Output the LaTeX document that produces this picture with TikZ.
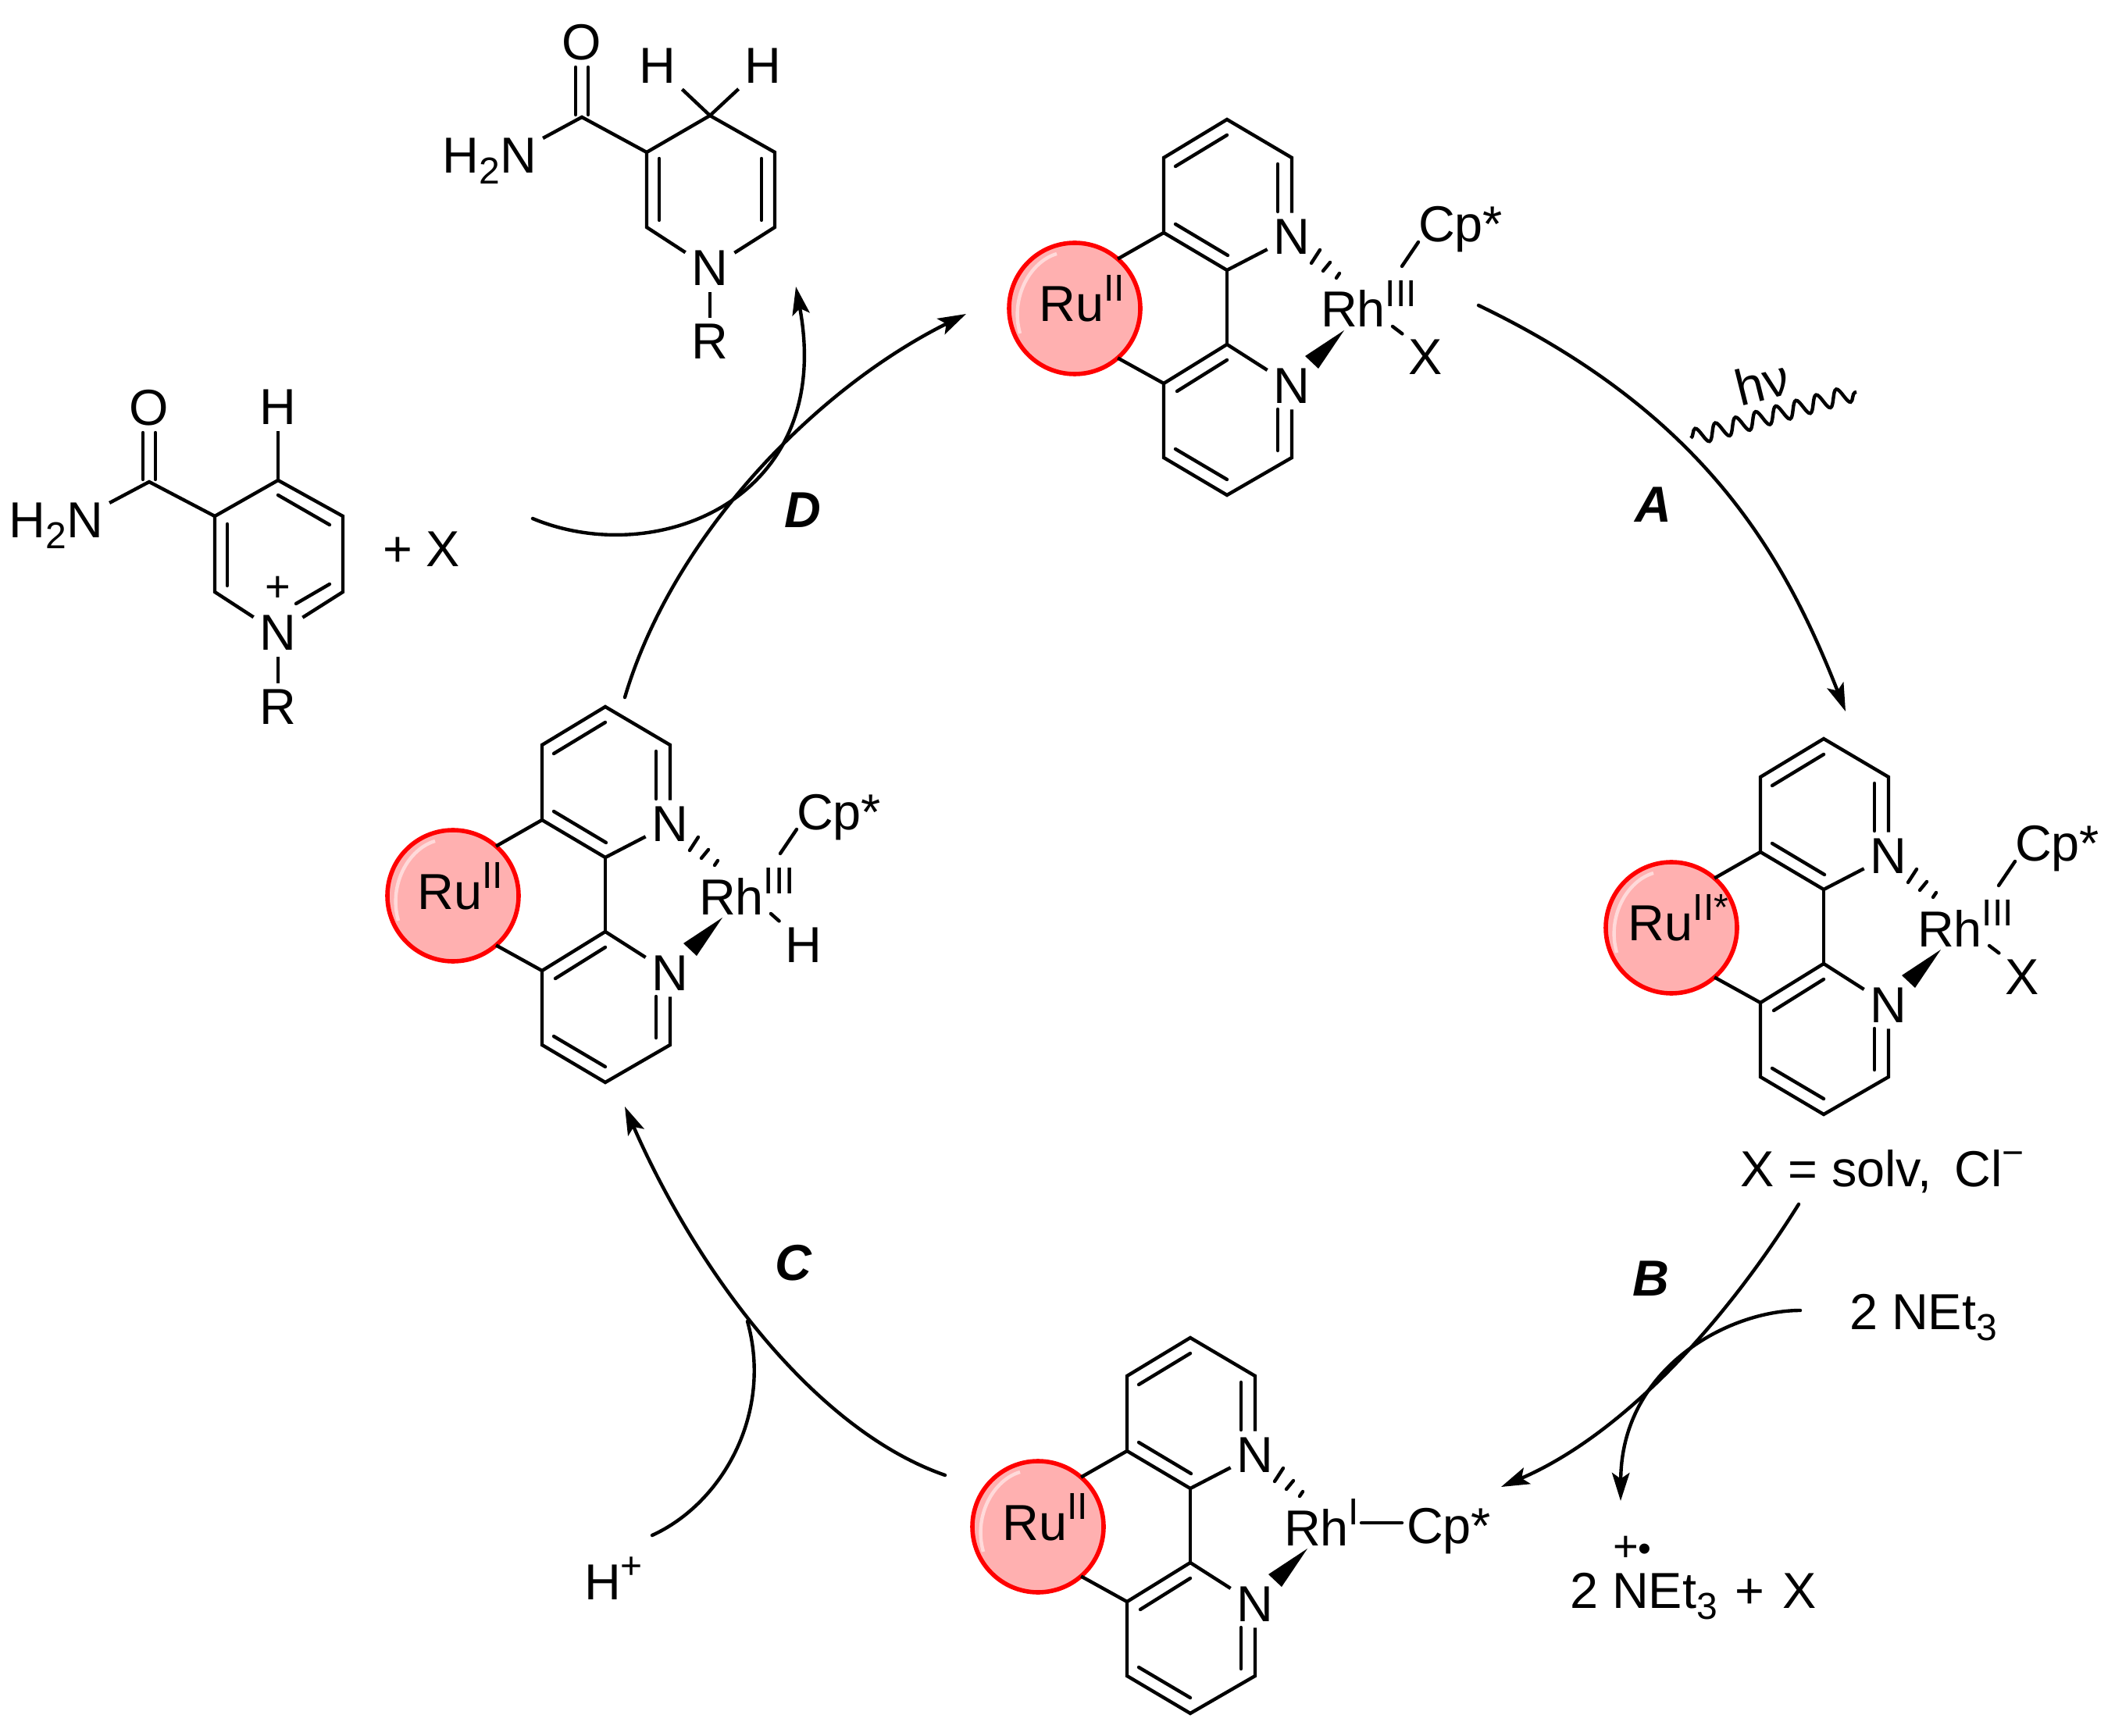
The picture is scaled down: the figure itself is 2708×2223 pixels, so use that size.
\documentclass[tikz,border=0pt]{standalone}
\usepackage{fontspec}
\setmainfont{Liberation Sans}
\usetikzlibrary{arrows.meta,decorations.pathmorphing}

\definecolor{ruFill}{HTML}{FFB0B0}
\definecolor{ruShine}{HTML}{FFDADA}
\newcommand{\chemfont}{\fontsize{16.2pt}{19pt}\selectfont}
\newcommand{\smallchem}{\fontsize{12pt}{14pt}\selectfont}
\newcommand{\chargefont}{\fontsize{14pt}{16pt}\selectfont}
\newcommand{\supr}[1]{\raisebox{6.6pt}{\smallchem #1}}
\newcommand{\subr}[1]{\raisebox{-3.5pt}{\smallchem #1}}

\tikzset{every picture/.style={line width=1.1pt},
  atom/.style={inner sep=0pt,outer sep=2pt,font=\chemfont,anchor=base},
  atomcenter/.style={atom,anchor=center},
  freetext/.style={inner sep=0pt,outer sep=0pt,font=\chemfont,anchor=base west},
  steplabel/.style={inner sep=0pt,font=\chemfont\bfseries\itshape},
  rucircle/.style={circle,draw=red,fill=ruFill,line width=1.4pt,minimum size=42pt,inner sep=0pt,outer sep=0pt},
  cycarrow/.style={-{Stealth[length=9pt,width=5.6pt,inset=1.9pt]}},
  arcline/.style={line cap=round},
  bond/.style={line cap=round},
  wedgebond/.style={fill=black,draw=none}}

% #1 name, #2 #3 top of ring, #4 Ru text, #5 Rh text, #6 ligands
\newcommand{\rucomplex}[6]{%
  \begin{scope}[shift={(#2,#3)},name prefix=#1-]
    %Metal circle
    \draw (-195,242) node [rucircle] (ru) {};
    \draw [ruShine] (-218,172) .. controls (-252,182) and (-278,228) .. (-265,274) ;
    \draw (-186,259) node [atom] (rulabel) {Ru\supr{#4}};
    \draw (83,150) node [atomcenter] (nup) {N};
    \draw (83,341) node [atomcenter] (ndown) {N};
    \draw (120,266) node [freetext] (rh) {Rh\supr{#5}};
    %Upper ring
    \coordinate (a) at (0,0);
    \coordinate (b) at (83,49);
    \coordinate (c) at (-81,49);
    \coordinate (d) at (-81,145);
    \coordinate (e) at (0,193);
    \coordinate (f) at (0,288);
    \coordinate (g) at (-81,338);
    \coordinate (h) at (-81,433);
    \coordinate (i) at (0,481);
    \coordinate (j) at (83,433);
    \draw [line join=miter] (nup) -- (b) -- (a) -- (c) -- (d) -- (e) -- (nup) ;
    \draw (e) -- (f) ;
    %Lower ring
    \draw [line join=miter] (ndown) -- (f) -- (g) -- (h) -- (i) -- (j) -- (ndown) ;
    %Inner lines
    \draw [bond] (-66,60) -- (0,20) ;
    \draw [bond] (65,57) -- (65,118) ;
    \draw [bond] (-66,134) -- (1,174) ;
    \draw [bond] (-64,348) -- (0,308) ;
    \draw [bond] (65,371) -- (65,424) ;
    \draw [bond] (-66,422) -- (0,461) ;
    %To the circle
    \draw (d) -- (ru.49) ;
    \draw (g) -- (ru.-49) ;
    %Hashed and wedge bonds to Rh
    \draw [bond] (119,167) -- (108,184) ;
    \draw [bond] (132,183) -- (123,194) ;
    \draw [bond] (144,197) -- (140,203) ;
    \fill [wedgebond] (150,270) -- (100,303) -- (117,319) -- cycle ;
    #6
  \end{scope}}

% #1 text of the lower ligand
\newcommand{\rhligands}[1]{%
  \draw (245,157) node [freetext] (cp) {Cp*};
  \draw (254,327) node [atom] (lig) {#1};
  \coordinate (rhup) at (224,188);
  \coordinate (rhdown) at (212,265);
  \draw [bond] (rhup) -- (cp.base west) ;
  \draw [bond] (rhdown) -- (lig.north west) ;}

\begin{document}
\begin{tikzpicture}[x=0.25pt,y=0.25pt,yscale=-1,xscale=1]
    \path [use as bounding box] (0,0) rectangle (2708,2223);

    %Complexes
    \rucomplex{top}{1571}{153}{II}{III}{\rhligands{X}}
    \rucomplex{right}{2335}{946}{II*}{III}{\rhligands{X}}
    \rucomplex{left}{775}{905}{II}{III}{\rhligands{H}}
    \rucomplex{low}{1524}{1713}{II}{I}{%
      \draw (277,263) node [freetext] (cp) {Cp*};
      \coordinate (rhright) at (219,237);
      \draw [bond,shorten >=1.5pt] (rhright) -- (rhright -| cp.west) ;}

    %Product ring
    \coordinate (pa) at (745,150);
    \coordinate (pb) at (828,195);
    \coordinate (pc) at (909,148);
    \coordinate (pd) at (992,195);
    \coordinate (pe) at (992,291);
    \coordinate (pf) at (828,291);
    \draw (745,77) node [atom] (po) {O};
    \draw (627,222) node [atom] (pnh) {H\subr{2}N};
    \draw (909,366) node [atom] (pn) {N};
    \draw (909,460) node [atom] (pr) {R};
    \draw (842,107) node [atom] (phl) {H};
    \draw (977,107) node [atom] (phr) {H};
    \draw (pnh.east |- 0,177) -- (pa) -- (pb) -- (pc) -- (pd) -- (pe) -- (pn) -- (pf) -- (pb) ;
    \draw (pc) -- (phl) ;
    \draw (pc) -- (phr) ;
    \draw (pn) -- (pr) ;
    \draw [bond] (737,147) -- (737,86) ;
    \draw [bond] (753,147) -- (753,86) ;
    \draw [bond] (844,203) -- (844,282) ;
    \draw [bond] (975,203) -- (975,282) ;

    %Substrate ring
    \coordinate (sa) at (191,617);
    \coordinate (sb) at (275,661);
    \coordinate (sc) at (356,615);
    \coordinate (sd) at (439,661);
    \coordinate (se) at (439,758);
    \coordinate (sf) at (275,758);
    \draw (191,545) node [atom] (so) {O};
    \draw (72,689) node [atom] (snh) {H\subr{2}N};
    \draw (356,833) node [atom] (sn) {N};
    \draw (356,928) node [atom] (sr) {R};
    \draw (356,544) node [atom] (sh) {H};
    \draw (356,754) node [atomcenter,font=\chargefont] (splus) {+};
    \draw (490,726) node [freetext] (sx) {+ X};
    \draw (snh.east |- 0,644) -- (sa) -- (sb) -- (sc) -- (sd) -- (se) -- (sn) -- (sf) -- (sb) ;
    \draw (sc) -- (sh) ;
    \draw (sn) -- (sr) ;
    \draw [bond] (183,614) -- (183,554) ;
    \draw [bond] (199,614) -- (199,554) ;
    \draw [bond] (291,671) -- (291,750) ;
    \draw [bond] (356,634) -- (422,672) ;
    \draw [bond] (379,773) -- (422,748) ;

    % Text Node
    \draw (2228,1519) node [freetext] (solv) {X = solv,\ \hspace{2.8pt}Cl\supr{−}};
    \draw (2368,1702) node [freetext] (net) {2 NEt\subr{3}};
    \draw (2010,2059) node [freetext] (netrad) {2 NEt\subr{3}\hspace{1.2pt} + \hspace{1.2pt}X};
    \draw (2090,1983) node [inner sep=0pt,font=\chargefont] (radical) {+{\smallchem •}};
    \draw (748,2048) node [freetext] (hplus) {H\supr{+}};
    \draw (2262,512) node [inner sep=0pt,font=\chemfont,rotate=14,anchor=base] (hnu) {hν};
    \draw (2117,646) node [steplabel] (labela) {A};
    \draw (2114,1637) node [steplabel] (labelb) {B};
    \draw (1016,1617) node [steplabel] (labelc) {C};
    \draw (1028,653) node [steplabel] (labeld) {D};

    %Arrow ends
    \coordinate (astart) at (1893,391);
    \coordinate (aend) at (2363,911);
    \coordinate (bstart) at (2303,1542);
    \coordinate (bend) at (1922,1904);
    \coordinate (netstart) at (2305,1678);
    \coordinate (netend) at (2075,1922);
    \coordinate (cstart) at (1210,1889);
    \coordinate (cend) at (800,1417);
    \coordinate (hstart) at (835,1966);
    \coordinate (hend) at (957,1692);
    \coordinate (dstart) at (800,893);
    \coordinate (dend) at (1237,402);
    \coordinate (xstart) at (682,664);
    \coordinate (xend) at (1019,367);
    \coordinate (wavestart) at (2165,561);
    \coordinate (waveend) at (2377,502);

    %Curve Lines
    \draw [cycarrow,arcline] (astart) .. controls (2180,529) and (2283,707) .. (aend) ;
    \draw [cycarrow,arcline] (bstart) .. controls (2190,1722) and (2060,1845) .. (bend) ;
    \draw [cycarrow,arcline] (netstart) .. controls (2215,1678) and (2076,1750) .. (netend) ;
    \draw [cycarrow,arcline] (cstart) .. controls (1040,1830) and (890,1623) .. (cend) ;
    \draw [arcline] (hstart) .. controls (925,1925) and (990,1810) .. (hend) ;
    \draw [cycarrow,arcline] (dstart) .. controls (860,690) and (1040,500) .. (dend) ;
    \draw [cycarrow,arcline] (xstart) .. controls (840,730) and (1070,640) .. (xend) ;
    \draw [line width=1.1pt,decorate,decoration={snake,segment length=6.7pt,amplitude=2.6pt}] (wavestart) -- (waveend) ;
\end{tikzpicture}
\end{document}
